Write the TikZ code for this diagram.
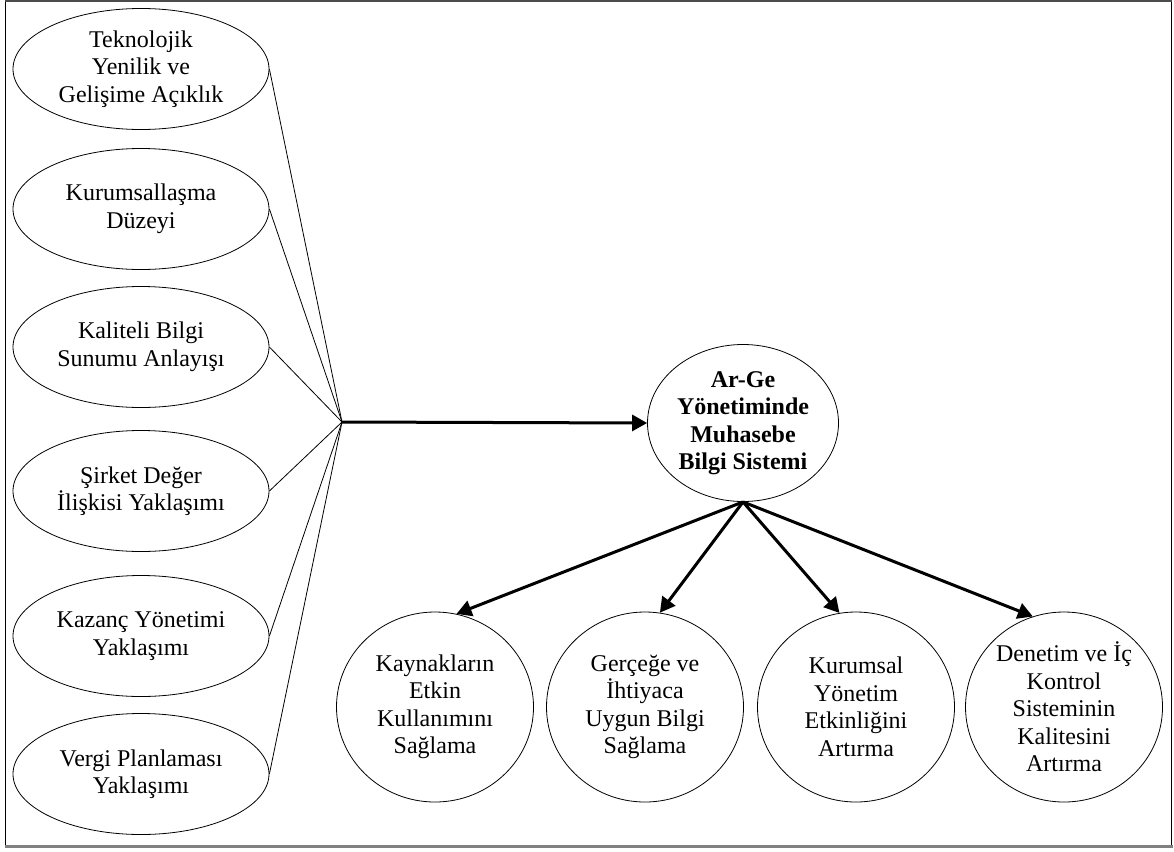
\documentclass[tikz,border=0pt]{standalone}
\usepackage{fontspec}
\setmainfont{Liberation Serif}
\usetikzlibrary{shapes.geometric,arrows.meta}
\begin{document}
\begin{tikzpicture}[x=1pt,y=-1pt,
  txt/.style={align=center,inner sep=0pt,font=\fontsize{24}{27.5}\selectfont},
  factor/.style={ellipse,draw,line width=0.8pt,inner sep=0pt,
    minimum width=256pt,minimum height=121pt},
  centre/.style={ellipse,draw,line width=0.8pt,inner sep=0pt,
    minimum width=191pt,minimum height=157pt},
  goal/.style={ellipse,draw,line width=0.8pt,inner sep=0pt,
    minimum width=197pt,minimum height=190pt},
  link/.style={line width=0.8pt},
  arr/.style={line width=3pt,-{Triangle[length=15pt,width=16pt]}}]

\useasboundingbox (0,0) rectangle (1174,851);

% outer frame
\draw[line width=1.2pt,black] (5.5,1) -- (5.5,846);
\draw[line width=1.4pt,black] (1171.5,1) -- (1171.5,846);
\draw[line width=1.2pt,black!70] (5,1) -- (1172,1);
\draw[line width=2.5pt,black!50] (5,846.5) -- (1172.5,846.5);

% factors on the left
\node[factor,label={[txt]center:Teknolojik\\Yenilik ve\\Gelişime Açıklık}] (f1) at (141,69) {};
\node[factor,label={[txt]center:Kurumsallaşma\\Düzeyi}] (f2) at (141,209) {};
\node[factor,label={[txt]center:Kaliteli Bilgi\\Sunumu Anlayışı}] (f3) at (141,347) {};
\node[factor,label={[txt]center:Şirket Değer\\İlişkisi Yaklaşımı}] (f4) at (141,491) {};
\node[factor,label={[txt]center:Kazanç Yönetimi\\Yaklaşımı}] (f5) at (141,636) {};
\node[factor,label={[txt]center:Vergi Planlaması\\Yaklaşımı}] (f6) at (141,774) {};

% central node
\node[centre,label={[txt,font=\fontsize{24}{27.5}\selectfont\bfseries]center:Ar-Ge\\Yönetiminde\\Muhasebe\\Bilgi Sistemi}] (mbs) at (743,423) {};

% outcomes
\node[goal,label={[txt]center:Kaynakların\\Etkin\\Kullanımını\\Sağlama}] (g1) at (435,707) {};
\node[goal,label={[txt]center:Gerçeğe ve\\İhtiyaca\\Uygun Bilgi\\Sağlama}] (g2) at (645,707) {};
\node[goal,label={[txt]center:Kurumsal\\Yönetim\\Etkinliğini\\Artırma}] (g3) at (856,707) {};
\node[goal,label={[txt]center:Denetim ve İç\\Kontrol\\Sisteminin\\Kalitesini\\Artırma}] (g4) at (1064,707) {};

% converging lines
\coordinate (hub) at (342,422);
\foreach \f in {f1,f2,f3,f4,f5,f6}
  \draw[link] (\f.east) -- (hub);

% arrows
\draw[arr] (hub) -- (mbs.west);
\draw[arr] (mbs.south) -- (g1.77);
\draw[arr] (mbs.south) -- (g2.81);
\draw[arr] (mbs.south) -- (g3.100);
\draw[arr] (mbs.south) -- (g4.109);
\end{tikzpicture}
\end{document}
